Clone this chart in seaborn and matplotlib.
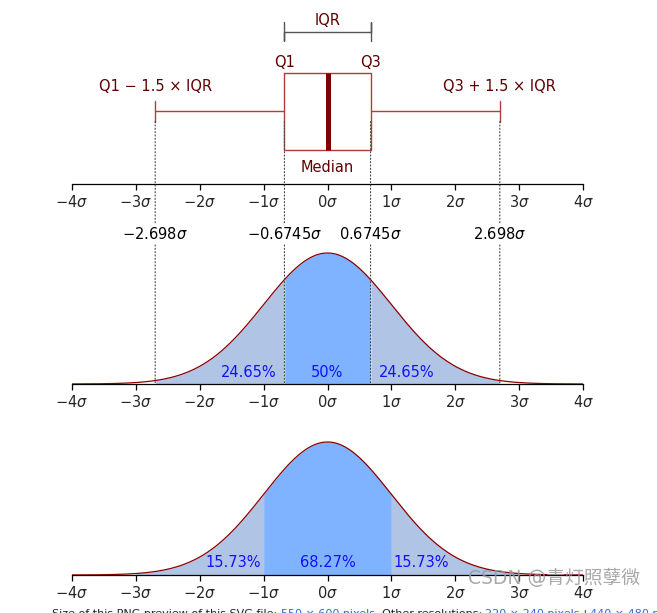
import numpy as np
import matplotlib
matplotlib.use("Agg")
import matplotlib.pyplot as plt
import seaborn as sns
from matplotlib.patches import ConnectionPatch
from matplotlib.transforms import blended_transform_factory

# ---------------- data ----------------
sigma_ticks = [-4, -3, -2, -1, 0, 1, 2, 3, 4]
sigma_tick_labels = [r"$-4\sigma$", r"$-3\sigma$", r"$-2\sigma$", r"$-1\sigma$", r"$0\sigma$",
                     r"$1\sigma$", r"$2\sigma$", r"$3\sigma$", r"$4\sigma$"]
box_sample = [-2.698, -0.6745, 0.0, 0.6745, 2.698]   # whisker low, Q1, median, Q3, whisker high
q1, q3 = -0.6745, 0.6745
whisk_lo, whisk_hi = -2.698, 2.698
mark_values = [-2.698, -0.6745, 0.6745, 2.698]
mark_labels = [r"$-2.698\sigma$", r"$-0.6745\sigma$", r"$0.6745\sigma$", r"$2.698\sigma$"]
mid_bounds = [-2.698, -0.6745, 0.6745, 2.698]
mid_pcts = ["24.65%", "50%", "24.65%"]
mid_pct_x = [-1.24, 0.0, 1.24]
low_bounds = [-3, -1, 1, 3]
low_pcts = ["15.73%", "68.27%", "15.73%"]
low_pct_x = [-1.47, 0.0, 1.47]

# ---------------- style ----------------
sns.set_style("white")
plt.rcParams["font.family"] = ["DejaVu Sans", "Noto Sans CJK SC"]

W, H = 657, 613
fig = plt.figure(figsize=(W / 100, H / 100), dpi=100)

def rect(left, right, top, bottom):
    return [left / W, 1 - bottom / H, (right - left) / W, (bottom - top) / H]

ax1 = fig.add_axes(rect(72, 583, 0, 184))
ax2 = fig.add_axes(rect(72, 583, 240, 384))
ax3 = fig.add_axes(rect(72, 583, 430, 575))

TXT_RED = "#600000"
BOX_RED = "#b03c3c"
MED_RED = "#800000"
CURVE = "#8b0000"
LIGHT = "#b0c4e6"
DARK = "#80b3ff"
PCT = "#1010ff"
FS = 10.5

def style_axis(ax):
    for s in ["left", "top", "right"]:
        ax.spines[s].set_visible(False)
    ax.spines["bottom"].set_color("black")
    ax.spines["bottom"].set_linewidth(0.9)
    ax.set_xlim(-4, 4)
    ax.set_xticks(sigma_ticks)
    ax.set_xticklabels(sigma_tick_labels, fontsize=FS)
    ax.set_yticks([])
    ax.tick_params(axis="x", direction="out", length=4.5, width=0.9, pad=3, bottom=True,
                   color="black")
    ax.set_xlabel("")
    ax.set_ylabel("")
    ax.patch.set_alpha(0)

# ---------------- box plot ----------------
capw = 0.21
sns.boxplot(x=box_sample, ax=ax1, whis=(0, 100), width=0.8, fill=False, color=BOX_RED,
            linewidth=1.0, capwidths=capw,
            medianprops=dict(color=MED_RED, linewidth=3.6),
            whiskerprops=dict(color=BOX_RED, linewidth=1.0),
            capprops=dict(color=BOX_RED, linewidth=1.0))
ax1.set_ylim(0.753, -1.158)
style_axis(ax1)

ax1.text(q1, -0.514, "Q1", ha="center", va="center", color=TXT_RED, fontsize=FS)
ax1.text(q3, -0.514, "Q3", ha="center", va="center", color=TXT_RED, fontsize=FS)
ax1.text(whisk_lo, -0.255, "Q1 \u2212 1.5 \u00d7 IQR", ha="center", va="center",
         color=TXT_RED, fontsize=FS)
ax1.text(whisk_hi, -0.255, "Q3 + 1.5 \u00d7 IQR", ha="center", va="center",
         color=TXT_RED, fontsize=FS)
ax1.text((q1 + q3) / 2, 0.577, "Median", ha="center", va="center", color=TXT_RED, fontsize=FS)
ax1.plot([q1, q1, q1, q3, q3, q3], [-0.93, -0.73, -0.826, -0.826, -0.93, -0.73],
         color="#555555", lw=1.0, solid_joinstyle="miter")
ax1.text((q1 + q3) / 2, -0.95, "IQR", ha="center", va="center", color=TXT_RED, fontsize=FS)

# ---------------- pdf plots ----------------
xs = np.linspace(-4, 4, 801)
pdf = np.exp(-xs ** 2 / 2) / np.sqrt(2 * np.pi)
peak = 1 / np.sqrt(2 * np.pi)

def pdf_panel(ax, bounds, pcts, pct_x, ytop):
    colors = [LIGHT, DARK, LIGHT]
    for i in range(3):
        m = (xs >= bounds[i]) & (xs <= bounds[i + 1])
        ax.fill_between(xs[m], 0, pdf[m], color=colors[i], lw=0, zorder=1)
    sns.lineplot(x=xs, y=pdf, ax=ax, color=CURVE, lw=0.9, zorder=3)
    ax.set_ylim(0, ytop)
    style_axis(ax)
    for t, xp in zip(pcts, pct_x):
        ax.text(xp, 0.036, t, ha="center", va="center", color=PCT, fontsize=FS, zorder=4)

pdf_panel(ax2, mid_bounds, mid_pcts, mid_pct_x, peak * 144 / 131)
pdf_panel(ax3, low_bounds, low_pcts, low_pct_x, peak * 145 / 133)

# dotted guide lines from box plot down to middle pdf baseline
for v in mark_values:
    cp = ConnectionPatch(xyA=(v, capw / 2), coordsA=ax1.transData,
                         xyB=(v, 0), coordsB=ax2.transData,
                         linestyle=(0, (1, 2)), color="#444444", lw=0.8, zorder=1)
    fig.add_artist(cp)

btr = blended_transform_factory(ax2.transData, ax2.transAxes)
for v, lab in zip(mark_values, mark_labels):
    fig.text(v, 1.042, lab, transform=btr, ha="center", va="center", fontsize=FS,
             color="black", zorder=5,
             bbox=dict(facecolor="white", edgecolor="none", pad=1.5))

# watermark
fig.text(640 / W, 1 - 578 / H, "CSDN @青灯照孽微", ha="right", va="center",
         fontsize=13.5, color="#9a9a9a", alpha=0.85,
         family=["DejaVu Sans", "Noto Sans CJK SC"], zorder=10)

# cut-off caption at the very bottom
caption_parts = [("Size of this PNG preview of this SVG file: ", "#222222"),
                 ("550 \u00d7 600 pixels", "#3366cc"),
                 (". Other resolutions: ", "#222222"),
                 ("220 \u00d7 240 pixels", "#3366cc"),
                 (" | ", "#222222"),
                 ("440 \u00d7 480 pixels", "#3366cc"),
                 (" | ", "#222222"),
                 ("703 \u00d7 768 pixels", "#3366cc")]
fig.canvas.draw()
renderer = fig.canvas.get_renderer()
xpos = 52 / W
for txt, col in caption_parts:
    t = fig.text(xpos, 1 - 609 / H, txt, ha="left", va="top", fontsize=8, color=col)
    bb = t.get_window_extent(renderer=renderer)
    xpos += bb.width / W

fig.savefig("out.png", dpi=100)
